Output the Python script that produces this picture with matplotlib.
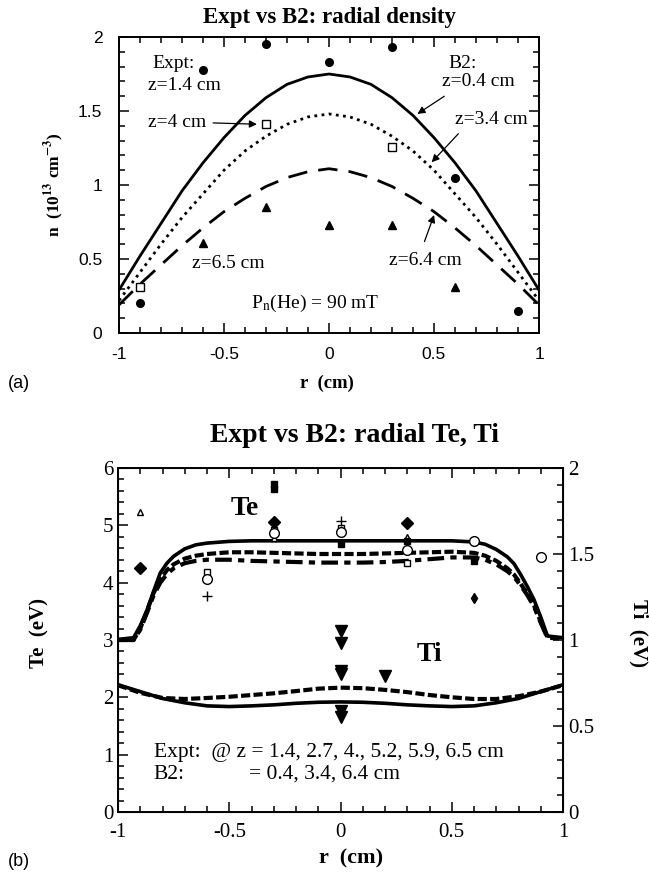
import numpy as np
import matplotlib
matplotlib.use("Agg")
import matplotlib.pyplot as plt
from matplotlib.ticker import MultipleLocator

plt.rcParams['font.family'] = ['Liberation Serif', 'DejaVu Serif']
plt.rcParams['mathtext.fontset'] = 'stix'

# ---- (a) radial density ----
r_n = [-1.0, -0.9, -0.8, -0.7, -0.6, -0.5, -0.4, -0.3, -0.2, -0.1, 0.0,
       0.1, 0.2, 0.3, 0.4, 0.5, 0.6, 0.7, 0.8, 0.9, 1.0]
n_b2_z04 = [0.29, 0.52, 0.74, 0.96, 1.15, 1.32, 1.47, 1.59, 1.68, 1.73, 1.75,
            1.73, 1.68, 1.59, 1.47, 1.32, 1.15, 0.96, 0.74, 0.52, 0.29]
n_b2_z34 = [0.22, 0.41, 0.60, 0.78, 0.94, 1.10, 1.23, 1.33, 1.41, 1.46, 1.48,
            1.46, 1.41, 1.33, 1.23, 1.10, 0.94, 0.78, 0.60, 0.41, 0.22]
n_b2_z64 = [0.19, 0.33, 0.46, 0.59, 0.71, 0.82, 0.91, 0.99, 1.05, 1.09, 1.11,
            1.09, 1.05, 0.99, 0.91, 0.82, 0.71, 0.59, 0.46, 0.33, 0.19]

r_ex14 = [-0.9, -0.6, -0.3, 0.0, 0.3, 0.6, 0.9]
n_ex14 = [0.20, 1.78, 1.95, 1.83, 1.93, 1.05, 0.15]
r_ex4 = [-0.9, -0.3, 0.3]
n_ex4 = [0.31, 1.41, 1.26]
r_ex65 = [-0.6, -0.3, 0.0, 0.3, 0.6]
n_ex65 = [0.61, 0.85, 0.73, 0.73, 0.31]

# ---- (b) radial Te, Ti ----
r_te = [-1.0, -0.93, -0.9, -0.87, -0.84, -0.81, -0.78, -0.75, -0.7, -0.65, -0.6,
        -0.5, -0.4, -0.3, -0.2, -0.1, 0.0, 0.1, 0.2, 0.3, 0.4, 0.5,
        0.6, 0.65, 0.7, 0.75, 0.78, 0.81, 0.84, 0.87, 0.9, 0.93, 1.0]
te_b2_z04 = [3.01, 3.04, 3.25, 3.52, 3.85, 4.17, 4.34, 4.46, 4.59, 4.66, 4.69,
             4.72, 4.73, 4.73, 4.73, 4.73, 4.73, 4.73, 4.73, 4.73, 4.73, 4.73,
             4.71, 4.67, 4.58, 4.45, 4.33, 4.14, 3.93, 3.70, 3.40, 3.07, 3.04]
te_b2_z34 = [3.00, 3.00, 3.20, 3.50, 3.82, 4.05, 4.22, 4.32, 4.42, 4.47, 4.50,
             4.53, 4.53, 4.52, 4.51, 4.50, 4.50, 4.50, 4.51, 4.52, 4.53, 4.54,
             4.52, 4.47, 4.38, 4.25, 4.14, 3.98, 3.80, 3.60, 3.32, 3.05, 3.02]
te_b2_z64 = [3.00, 3.00, 3.18, 3.47, 3.78, 4.00, 4.15, 4.25, 4.34, 4.38, 4.40,
             4.40, 4.38, 4.37, 4.36, 4.35, 4.35, 4.35, 4.36, 4.38, 4.41, 4.44,
             4.44, 4.40, 4.32, 4.20, 4.10, 3.95, 3.78, 3.58, 3.30, 3.04, 3.02]

r_ti = r_n
ti_b2_z04 = [0.74, 0.70, 0.66, 0.635, 0.617, 0.613, 0.617, 0.623, 0.632, 0.638, 0.64,
             0.638, 0.632, 0.623, 0.617, 0.613, 0.617, 0.635, 0.66, 0.70, 0.74]
ti_b2_z34 = [0.737, 0.693, 0.663, 0.657, 0.663, 0.67, 0.68, 0.69, 0.703, 0.717, 0.723,
             0.72, 0.71, 0.697, 0.68, 0.667, 0.657, 0.657, 0.673, 0.70, 0.737]

te_diam_r = [-0.9, -0.3, 0.3]
te_diam = [4.25, 5.05, 5.04]
te_spade_r = [0.6]
te_spade = [3.73]
te_tri_r = [-0.9, -0.3, 0.3]
te_tri = [5.24, 4.78, 4.80]
te_sq_r = [-0.6, -0.3, 0.0, 0.3]
te_sq = [4.19, 4.92, 4.95, 4.34]
te_circ_r = [-0.6, -0.3, 0.0, 0.3, 0.6, 0.9]
te_circ = [4.06, 4.86, 4.89, 4.57, 4.73, 4.44]
te_plus_r = [-0.6, 0.0]
te_plus = [3.76, 5.08]
te_fsq_r = [-0.3, -0.3, 0.0, 0.3, 0.6]
te_fsq = [5.72, 5.63, 4.67, 4.72, 4.37]
ti_ex_r = [0.0, 0.0, 0.0, 0.0, 0.0, 0.0, 0.2]
ti_ex = [1.05, 0.98, 0.82, 0.80, 0.59, 0.55, 0.79]

W, H = 649, 873
fig = plt.figure(figsize=(W / 100, H / 100), dpi=100)


def px_axes(l, t, r, b):
    return fig.add_axes([l / W, 1 - b / H, (r - l) / W, (b - t) / H])


def style_ticks(ax, minor_x, minor_y, right=True):
    ax.tick_params(which='both', direction='in', top=True, right=right, width=1.1)
    ax.tick_params(which='major', length=7)
    ax.tick_params(which='minor', length=4)
    ax.xaxis.set_minor_locator(MultipleLocator(minor_x))
    ax.yaxis.set_minor_locator(MultipleLocator(minor_y))
    for s in ax.spines.values():
        s.set_linewidth(1.4)


# panel (a)
ax1 = px_axes(119, 37, 539, 333)
ax1.plot(r_n, n_b2_z04, '-', color='k', lw=2.0)
ax1.plot(r_n, n_b2_z34, color='k', lw=2.0, linestyle=(0, (1, 1.6)))
ax1.plot(r_n, n_b2_z64, color='k', lw=2.0, linestyle=(0, (7, 4)))
ax1.plot(r_ex14, n_ex14, 'o', color='k', ms=5.5)
ax1.plot(r_ex4, n_ex4, 's', mfc='white', mec='k', mew=1.0, ms=6)
ax1.plot(r_ex65, n_ex65, '^', color='k', ms=6)
ax1.set_xlim(-1, 1)
ax1.set_ylim(0, 2)
ax1.xaxis.set_major_locator(MultipleLocator(0.5))
ax1.yaxis.set_major_locator(MultipleLocator(0.5))
style_ticks(ax1, 0.1, 0.1)
ax1.set_xticks([-1, -0.5, 0, 0.5, 1], ['-1', '-0.5', '0', '0.5', '1'])
ax1.set_yticks([0, 0.5, 1, 1.5, 2], ['0', '0.5', '1', '1.5', '2'])
for lab in ax1.get_xticklabels() + ax1.get_yticklabels():
    lab.set_family('Liberation Sans')
    lab.set_fontsize(12.5)
ax1.tick_params(axis='x', pad=10)
ax1.tick_params(axis='y', pad=12)

fs_a = 14
ax1.text(-0.84, 1.82, 'Expt:', fontsize=fs_a, va='center')
ax1.text(-0.86, 1.67, 'z=1.4 cm', fontsize=fs_a, va='center')
ax1.text(0.57, 1.82, 'B2:', fontsize=fs_a, va='center')
ax1.text(0.54, 1.70, 'z=0.4 cm', fontsize=fs_a, va='center')
ax1.text(-0.86, 1.42, 'z=4 cm', fontsize=fs_a, va='center')
ax1.text(0.60, 1.445, 'z=3.4 cm', fontsize=fs_a, va='center')
ax1.text(-0.65, 0.47, 'z=6.5 cm', fontsize=fs_a, va='center')
ax1.text(0.285, 0.49, 'z=6.4 cm', fontsize=fs_a, va='center')
ax1.text(-0.37, 0.20, r'P$_{\mathrm{n}}$(He) = 90 mT', fontsize=fs_a, va='center')
arw = dict(arrowstyle='-|>', color='k', lw=0.9, mutation_scale=11)
ax1.annotate('', xy=(0.41, 1.47), xytext=(0.56, 1.61), arrowprops=arw)
ax1.annotate('', xy=(-0.33, 1.41), xytext=(-0.565, 1.42), arrowprops=arw)
ax1.annotate('', xy=(0.48, 1.14), xytext=(0.625, 1.36), arrowprops=arw)
ax1.annotate('', xy=(0.505, 0.815), xytext=(0.45, 0.60), arrowprops=arw)

fig.text(329 / W, 1 - 17 / H, 'Expt vs B2: radial density', ha='center',
         va='center', fontsize=16.5, fontweight='bold')
fig.text(54 / W, 1 - 185 / H, r'n  (10$^{\mathbf{13}}$ cm$^{\mathbf{-3}}$)',
         rotation=90, ha='center', va='center', fontsize=12.5, fontweight='bold')
fig.text(327 / W, 1 - 383 / H, 'r  (cm)', ha='center', va='center',
         fontsize=13.5, fontweight='bold')
fig.text(8 / W, 1 - 383 / H, '(a)', ha='left', va='center', fontsize=13,
         family='Liberation Sans')

# panel (b)
ax2 = px_axes(118, 468, 563, 812)
ax2.plot(r_te, te_b2_z04, '-', color='k', lw=2.6)
ax2.plot(r_te, te_b2_z34, color='k', lw=3.0, linestyle=(0, (2.2, 0.8)))
ax2.plot(r_te, te_b2_z64, color='k', lw=3.0, linestyle=(0, (4, 1.5, 1.5, 1.5)))
ax2.plot(te_diam_r, te_diam, 'D', color='k', ms=6)
ax2.plot(te_spade_r, te_spade, 'd', color='k', ms=5)
ax2.plot(te_tri_r, te_tri, '^', mfc='white', mec='k', mew=1.0, ms=5)
ax2.plot(te_sq_r, te_sq, 's', mfc='white', mec='k', mew=1.0, ms=5)
ax2.plot(te_circ_r, te_circ, 'o', mfc='white', mec='k', mew=1.0, ms=7)
ax2.plot(te_plus_r, te_plus, '+', color='k', mew=1.0, ms=7)
ax2.plot(te_fsq_r, te_fsq, 's', color='k', ms=5)
ax2.set_xlim(-1, 1)
ax2.set_ylim(0, 6)
ax2.xaxis.set_major_locator(MultipleLocator(0.5))
ax2.yaxis.set_major_locator(MultipleLocator(1))
style_ticks(ax2, 0.1, 0.2, right=False)
ax2.set_xticks([-1, -0.5, 0, 0.5, 1], ['-1', '-0.5', '0', '0.5', '1'])
ax2.tick_params(axis='both', labelsize=15)
ax2.tick_params(axis='x', pad=8)

ax3 = ax2.twinx()
ax3.plot(r_ti, ti_b2_z04, '-', color='k', lw=2.6)
ax3.plot(r_ti, ti_b2_z34, color='k', lw=3.0, linestyle=(0, (2.2, 0.8)))
ax3.plot(ti_ex_r, ti_ex, 'v', color='k', ms=8)
ax3.set_ylim(0, 2)
ax3.yaxis.set_major_locator(MultipleLocator(0.5))
ax3.yaxis.set_minor_locator(MultipleLocator(0.1))
ax3.tick_params(which='both', direction='in', width=1.1, labelsize=15)
ax3.tick_params(which='major', length=7)
ax3.tick_params(which='minor', length=4)
ax3.set_yticks([0, 0.5, 1, 1.5, 2], ['0', '0.5', '1', '1.5', '2'])

ax2.text(-0.43, 5.30, 'Te', fontsize=20, fontweight='bold', ha='center', va='center')
ax2.text(0.40, 2.74, 'Ti', fontsize=20, fontweight='bold', ha='center', va='center')
ax2.text(-0.84, 1.03, 'Expt:  @ z = 1.4, 2.7, 4., 5.2, 5.9, 6.5 cm', fontsize=15.5,
         va='center')
ax2.text(-0.84, 0.66, 'B2:', fontsize=15.5, va='center')
ax2.text(-0.41, 0.66, '= 0.4, 3.4, 6.4 cm', fontsize=15.5, va='center')

fig.text(354 / W, 1 - 435 / H, 'Expt vs B2: radial Te, Ti', ha='center',
         va='center', fontsize=20, fontweight='bold')
fig.text(39 / W, 1 - 633 / H, 'Te  (eV)', rotation=90, ha='center', va='center',
         fontsize=15, fontweight='bold')
fig.text(639 / W, 1 - 633 / H, 'Ti  (eV)', rotation=270, ha='center', va='center',
         fontsize=15, fontweight='bold')
fig.text(351 / W, 1 - 858 / H, 'r  (cm)', ha='center', va='center',
         fontsize=16, fontweight='bold')
fig.text(8 / W, 1 - 862 / H, '(b)', ha='left', va='center', fontsize=13,
         family='Liberation Sans')

fig.savefig('out.png', dpi=100)
